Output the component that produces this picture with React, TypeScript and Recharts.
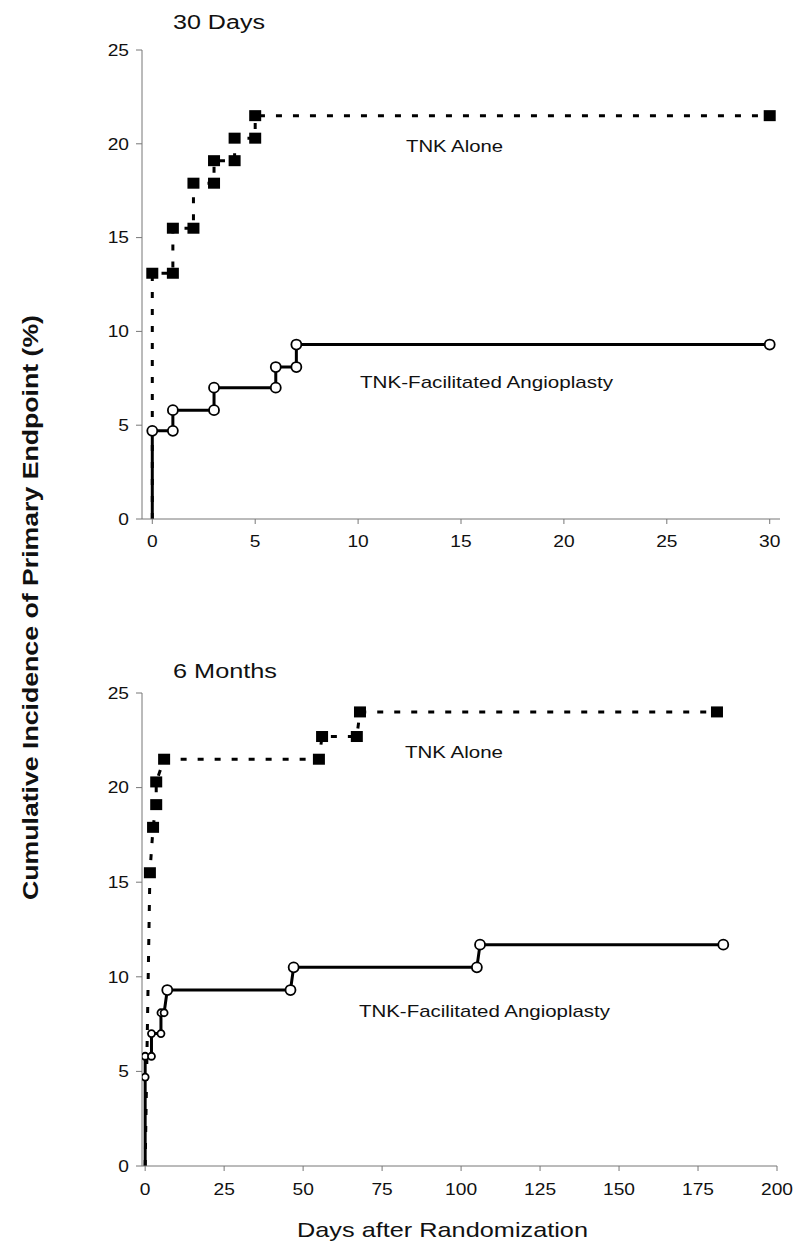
import React from 'react';
import { ComposedChart, Line, XAxis, YAxis } from 'recharts';

// ---- Tick labels ----
const yTicks = [0, 5, 10, 15, 20, 25];
const dayTicks30 = [0, 5, 10, 15, 20, 25, 30];
const dayTicks6m = [0, 25, 50, 75, 100, 125, 150, 175, 200];

// ---- 30 Days panel ----
const alone30Days = [0, 0, 1, 1, 2, 2, 3, 3, 4, 4, 5, 5, 30];
const alone30Pct = [0, 13.1, 13.1, 15.5, 15.5, 17.9, 17.9, 19.1, 19.1, 20.3, 20.3, 21.5, 21.5];
const facil30Days = [0, 0, 1, 1, 3, 3, 6, 6, 7, 7, 30];
const facil30Pct = [0, 4.7, 4.7, 5.8, 5.8, 7.0, 7.0, 8.1, 8.1, 9.3, 9.3];

// ---- 6 Months panel ----
const alone6mDays = [0, 1.5, 2.5, 3.5, 3.5, 6, 55, 56, 67, 68, 181];
const alone6mPct = [0, 15.5, 17.9, 19.1, 20.3, 21.5, 21.5, 22.7, 22.7, 24.0, 24.0];
const facil6mDays = [0, 0, 0, 2, 2, 5, 5, 6, 7, 46, 47, 105, 106, 183];
const facil6mPct = [0, 4.7, 5.8, 5.8, 7.0, 7.0, 8.1, 8.1, 9.3, 9.3, 10.5, 10.5, 11.7, 11.7];

const zip = (days: number[], pct: number[]) => days.map((d, i) => ({ day: d, pct: pct[i] }));

const FONT = '"Liberation Sans", Arial, Helvetica, sans-serif';

const StretchTick = (props: any) => {
  const { x, y, payload, textAnchor, orientation } = props;
  const isY = orientation === 'left';
  return (
    <g transform={`translate(${x},${y})`}>
      <text
        transform="scale(1.2,1)"
        textAnchor={textAnchor}
        dy={isY ? '0.36em' : '0.71em'}
        fontSize={16}
        fontFamily={FONT}
        fill="#111"
      >
        {payload.value}
      </text>
    </g>
  );
};

const SquareDot = (props: any) => {
  const { cx, cy, payload, index } = props;
  if (payload.pct === 0 || cx == null) return <g key={`sq-${index}`} />;
  return <rect key={`sq-${index}`} x={cx - 6} y={cy - 5.5} width={12} height={11} fill="#000" />;
};

const makeCircleDot = (smallBelowDay: number) => (props: any) => {
  const { cx, cy, payload, index } = props;
  if (payload.pct === 0 || cx == null) return <g key={`ci-${index}`} />;
  const r = payload.day < smallBelowDay ? 3.5 : 5;
  return <circle key={`ci-${index}`} cx={cx} cy={cy} r={r} fill="#fff" stroke="#000" strokeWidth={1.8} />;
};

const axisStroke = '#777';

interface PanelProps {
  top: number;
  height: number;
  margin: { top: number; right: number; bottom: number; left: number };
  domain: [number, number];
  ticks: number[];
  alone: { day: number; pct: number }[];
  facil: { day: number; pct: number }[];
  smallBelowDay: number;
  tickMargin: number;
}

const Panel = ({ top, height, margin, domain, ticks, alone, facil, smallBelowDay, tickMargin }: PanelProps) => (
  <div style={{ position: 'absolute', left: 0, top, width: 807, height }}>
    <ComposedChart width={807} height={height} margin={margin}>
      <XAxis
        type="number"
        dataKey="day"
        domain={domain}
        ticks={ticks}
        allowDataOverflow
        interval={0}
        height={40}
        tickSize={5}
        tickMargin={tickMargin}
        axisLine={{ stroke: axisStroke, strokeWidth: 1 }}
        tickLine={{ stroke: axisStroke, strokeWidth: 1 }}
        tick={<StretchTick />}
      />
      <YAxis
        type="number"
        dataKey="pct"
        domain={[0, 25]}
        ticks={yTicks}
        interval={0}
        width={60}
        tickSize={6}
        tickMargin={7}
        axisLine={{ stroke: axisStroke, strokeWidth: 1 }}
        tickLine={{ stroke: axisStroke, strokeWidth: 1 }}
        tick={<StretchTick />}
      />
      <Line
        data={alone}
        dataKey="pct"
        type="linear"
        stroke="#000"
        strokeWidth={3}
        strokeDasharray="6 11"
        dot={SquareDot}
        activeDot={false}
        isAnimationActive={false}
      />
      <Line
        data={facil}
        dataKey="pct"
        type="linear"
        stroke="#000"
        strokeWidth={3}
        dot={makeCircleDot(smallBelowDay)}
        activeDot={false}
        isAnimationActive={false}
      />
    </ComposedChart>
  </div>
);

const T = ({ x, y, size, len, children, bold }: any) => (
  <text
    x={x}
    y={y}
    fontSize={size}
    fontFamily={FONT}
    fontWeight={bold ? 'bold' : 'normal'}
    fill="#111"
    textLength={len}
    lengthAdjust="spacingAndGlyphs"
  >
    {children}
  </text>
);

export default function App() {
  return (
    <div style={{ position: 'absolute', left: 0, top: 0, width: 807, height: 1242, background: '#fff' }}>
      <Panel
        top={0}
        height={570}
        margin={{ top: 50, right: 27, bottom: 11, left: 82 }}
        domain={[-0.5, 30.5]}
        ticks={dayTicks30}
        alone={zip(alone30Days, alone30Pct)}
        facil={zip(facil30Days, facil30Pct)}
        smallBelowDay={-1}
        tickMargin={12}
      />
      <Panel
        top={600}
        height={620}
        margin={{ top: 93, right: 30, bottom: 14, left: 82 }}
        domain={[-1, 200]}
        ticks={dayTicks6m}
        alone={zip(alone6mDays, alone6mPct)}
        facil={zip(facil6mDays, facil6mPct)}
        smallBelowDay={6.5}
        tickMargin={13}
      />
      <svg
        width={807}
        height={1242}
        style={{ position: 'absolute', left: 0, top: 0, pointerEvents: 'none' }}
      >
        <T x={173} y={29} size={20} len={92}>30 Days</T>
        <T x={173} y={678} size={20} len={104}>6 Months</T>
        <T x={406} y={152} size={17} len={97}>TNK Alone</T>
        <T x={360} y={388} size={17} len={253}>TNK-Facilitated Angioplasty</T>
        <T x={405} y={758} size={17} len={98}>TNK Alone</T>
        <T x={359} y={1017} size={17} len={251}>TNK-Facilitated Angioplasty</T>
        <T x={297} y={1237} size={21} len={291}>Days after Randomization</T>
        <g transform="translate(38,900) rotate(-90)">
          <T x={0} y={0} size={22} len={585} bold>Cumulative Incidence of Primary Endpoint (%)</T>
        </g>
      </svg>
    </div>
  );
}
